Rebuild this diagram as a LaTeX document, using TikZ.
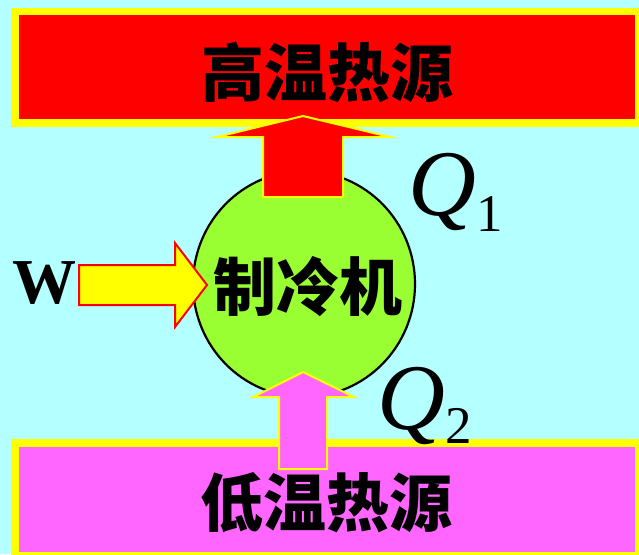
\documentclass[tikz,border=0pt]{standalone}
\usepackage{fontspec}
\setmainfont{Liberation Serif}
\newfontfamily\cjk{Noto Sans CJK SC}
\definecolor{bgcyan}{RGB}{180,255,255}
\definecolor{hotred}{RGB}{255,0,0}
\definecolor{frameyellow}{RGB}{255,255,0}
\definecolor{coldpink}{RGB}{255,102,255}
\definecolor{machgreen}{RGB}{153,255,51}
\tikzset{
  reservoir/.style={line width=7.5pt, draw=frameyellow},
  blockarrow/.style={line width=2pt, line join=miter},
  cjklabel/.style={font=\cjk\bfseries\fontsize{63}{63}\selectfont, inner sep=0pt},
}
\begin{document}
\begin{tikzpicture}[x=1pt,y=-1pt]
\useasboundingbox (0,0) rectangle (639,554);
\clip (0,0) rectangle (639,554);
\fill[bgcyan] (0,0) rectangle (639,554);
% machine
\draw[fill=machgreen, line width=2.2pt] (304,284) ellipse [x radius=111, y radius=113];
% reservoirs
\draw[reservoir, fill=hotred] (15,11.5) rectangle (639,123);
\draw[reservoir, fill=coldpink] (15,443) rectangle (639,556);
% Q1 arrow (up into hot reservoir)
\draw[blockarrow, draw=frameyellow, fill=hotred]
  (263,197) -- (263,137) -- (217,137) -- (303,116) -- (390,137) -- (343,137) -- (343,197) -- cycle;
% Q2 arrow (up from cold reservoir)
\draw[blockarrow, draw=frameyellow, fill=coldpink]
  (279,469) -- (279,397) -- (253,397) -- (303,372) -- (354,397) -- (327,397) -- (327,469) -- cycle;
% W arrow
\draw[blockarrow, draw=hotred, fill=frameyellow]
  (79,265) -- (175,265) -- (175,243) -- (207,285) -- (175,327) -- (175,305) -- (79,305) -- cycle;
% labels
\node[cjklabel] (hot) at (327,72) {高温热源};
\node[cjklabel] (cold) at (326,503) {低温热源};
\node[cjklabel] (mach) at (308,287) {制冷机};
\node[anchor=base west, inner sep=0pt, font=\bfseries\fontsize{64}{64}\selectfont] (w) at (12,303) {W};
\node[anchor=base west, inner sep=0pt] (q1) at (408,215)
  {\fontsize{94}{94}\selectfont\itshape Q\raisebox{-16pt}{\fontsize{53}{53}\selectfont\upshape 1}};
\node[anchor=base west, inner sep=0pt] (q2) at (377,429)
  {\fontsize{94}{94}\selectfont\itshape Q\raisebox{-14pt}{\fontsize{53}{53}\selectfont\upshape 2}};
\end{tikzpicture}
\end{document}
